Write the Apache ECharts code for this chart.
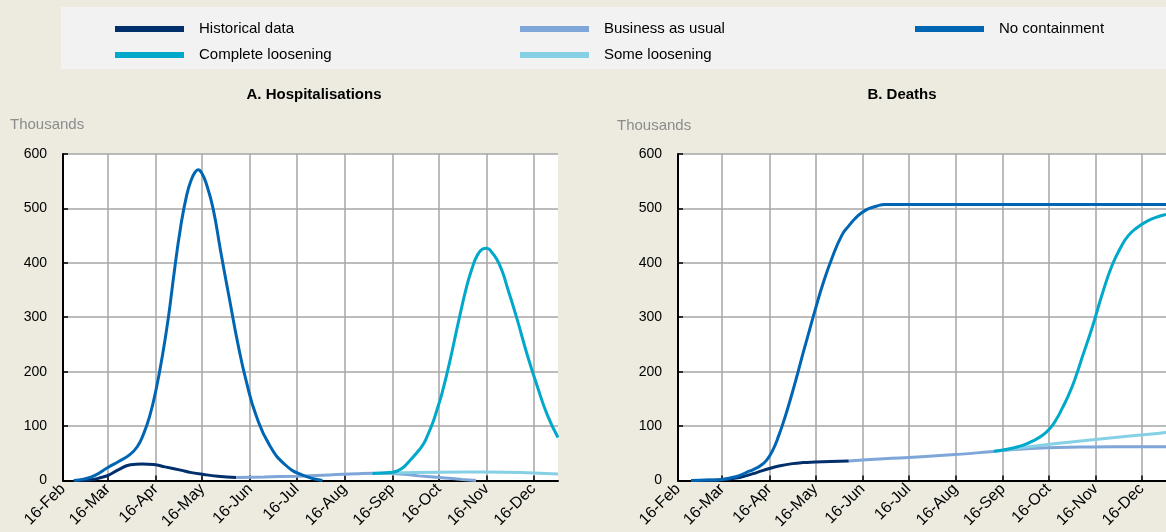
<!DOCTYPE html>
<html><head><meta charset="utf-8">
<script src="https://cdn.jsdelivr.net/npm/echarts@6/dist/echarts.min.js"></script>
<style>html,body{margin:0;padding:0;background:#edeadf;}#c{width:1166px;height:532px;}</style>
</head><body><div id="c"></div>
<script>
// x = days since 16-Feb-2020
const tickDays = [0, 29, 60, 90, 121, 151, 182, 213, 243, 274, 304];
const tickLabels = ['16-Feb','16-Mar','16-Apr','16-May','16-Jun','16-Jul','16-Aug','16-Sep','16-Oct','16-Nov','16-Dec'];
const yTicks = [0, 100, 200, 300, 400, 500, 600];

// Panel A: Hospitalisations (thousands)
const histHosp = [[7,0],[13,0.5],[19.5,2],[24,5],[29.5,10],[36,20],[43.6,29],[51,30.5],[58.6,29.5],[66,25],[76,19],[83,14.5],[91,11],[100,8],[112,5.5]];
const bauHosp = [[112,5.5],[130,6.5],[151,8],[172,10],[190,12.5],[200,13.4],[213,13],[230,8.5],[245,5],[258,2],[267,0]];
const noContHosp = [[7,0],[14,3],[21,10],[29,24],[36,35],[43,47],[48,62],[52,85],[56,118],[60,165],[64,225],[68,297],[72,385],[76,465],[80,525],[83,553],[85.5,567],[87.3,571],[89.5,566],[92.7,545],[97,500],[102,420],[107.7,332],[113,252],[118.5,182],[124.8,120],[133.5,65],[144,28],[154.8,10],[167.7,0]];
const someHosp = [[200,13],[213,14],[243,15],[274,15.5],[304,14],[320,12]];
const completeHosp = [[200,13],[213,15],[219,22],[224,36],[229,52],[233,67],[236,85],[239.4,109],[242,132],[245,160],[250,218],[255.6,291],[261,357],[264.5,390],[267.5,412],[271,425],[274,427],[277,420],[280.5,406],[284,384],[287,357],[293.5,297],[300,232],[306.5,174],[313,121],[320,79]];

// Panel B: Deaths (thousands)
const histDeath = [[8.6,0],[20,0.5],[29,1.5],[37,4],[45,9],[52,15],[60,22],[67,27],[75,31],[82,33],[90,34],[100,35],[112,36]];
const bauDeath = [[112,36],[135,40],[157,43],[183.5,48],[207,53.5],[226,58],[248,60.5],[270,61.5],[300,62],[320,62]];
const noContDeath = [[8.6,0],[20,0.7],[29,2],[38,7],[45,15],[50,21],[54,27],[58,37],[62,55],[66,82],[70,115],[74,152],[78,192],[82,234],[86,274],[90,314],[95,361],[101,409],[107.5,451],[112,468],[116,481],[120,491],[124.7,499],[130,504],[135.5,507],[160,507],[220,507],[320,507]];
const someDeath = [[207,53.5],[248,68],[280,77],[316,87],[320,88]];
const completeDeath = [[207,53.5],[215,57],[220,60],[226.5,65],[233,73],[239.5,84],[244,96],[248,112],[252,133],[256.6,160],[261,192],[265,226],[271.7,282],[278,341],[284.6,395],[291,432],[295,449],[299.7,462],[308,477],[316,486],[320,489]];

const colors = {'Historical data':'#002f6c','Business as usual':'#7fa6d9','No containment':'#0066b3','Complete loosening':'#00a8ca','Some loosening':'#85d0e4'};

const chart = echarts.init(document.getElementById('c'), null, {renderer:'canvas'});
const font = 'Arial, "Liberation Sans", sans-serif';

function xAxis(gi){
  return {
    type:'value', gridIndex:gi, min:0, max:320,
    axisLine:{show:true, onZero:false, lineStyle:{color:'#000', width:2}},
    axisTick:{show:true, inside:true, length:5, customValues:tickDays, lineStyle:{color:'#000', width:1.5}},
    axisLabel:{customValues:tickDays, rotate:45, margin:6, fontSize:16, color:'#000', fontFamily:font,
      formatter:function(v){const i = tickDays.indexOf(Math.round(v)); return i>=0 ? tickLabels[i] : '';}},
    splitLine:{show:true, lineStyle:{color:'#a6a6a6', width:1.5}}
  };
}
function yAxis(gi){
  return {
    type:'value', gridIndex:gi, min:yTicks[0], max:yTicks[yTicks.length-1], interval:100,
    axisLine:{show:true, lineStyle:{color:'#000', width:2}},
    axisTick:{show:true, inside:true, length:5, lineStyle:{color:'#000', width:1.5}},
    axisLabel:{margin:16, fontSize:14, color:'#000', fontFamily:font},
    splitLine:{show:true, lineStyle:{color:'#a6a6a6', width:1.5}}
  };
}
function line(name, data, gi){
  return {name:name, type:'line', xAxisIndex:gi, yAxisIndex:gi, data:data, smooth:0.5,
    showSymbol:false, symbol:'none', lineStyle:{color:colors[name], width:3}, itemStyle:{color:colors[name]}, z:3};
}
const legendBase = {orient:'vertical', icon:'rect', itemWidth:69, itemHeight:6, itemGap:10,
  textStyle:{fontSize:15, color:'#000', fontFamily:font, lineHeight:16, padding:[0,0,0,10]}, selectedMode:false};

chart.setOption({
  backgroundColor:'#edeadf',
  animation:false,
  graphic:[
    {type:'rect', shape:{x:61, y:7, width:1120, height:62}, style:{fill:'#f2f2f2'}, z:-1},
    {type:'text', style:{text:'A. Hospitalisations', x:314, y:95, textAlign:'center', textVerticalAlign:'middle', font:'bold 15px Arial, "Liberation Sans", sans-serif', fill:'#000'}},
    {type:'text', style:{text:'B. Deaths', x:902, y:95, textAlign:'center', textVerticalAlign:'middle', font:'bold 15px Arial, "Liberation Sans", sans-serif', fill:'#000'}},
    {type:'text', style:{text:'Thousands', x:10, y:125, textAlign:'left', textVerticalAlign:'middle', font:'15px Arial, "Liberation Sans", sans-serif', fill:'#8c8c8c'}},
    {type:'text', style:{text:'Thousands', x:617, y:126, textAlign:'left', textVerticalAlign:'middle', font:'15px Arial, "Liberation Sans", sans-serif', fill:'#8c8c8c'}}
  ],
  legend:[
    Object.assign({left:110, top:16, data:['Historical data','Complete loosening']}, legendBase),
    Object.assign({left:515, top:16, data:['Business as usual','Some loosening']}, legendBase),
    Object.assign({left:910, top:16, data:['No containment']}, legendBase)
  ],
  grid:[
    {left:63, top:154, width:495, height:329, show:true, backgroundColor:'#ffffff', borderWidth:0},
    {left:678, top:154, width:495, height:329, show:true, backgroundColor:'#ffffff', borderWidth:0}
  ],
  xAxis:[xAxis(0), xAxis(1)],
  yAxis:[yAxis(0), yAxis(1)],
  series:[
    line('Historical data', histHosp, 0),
    line('Business as usual', bauHosp, 0),
    line('Some loosening', someHosp, 0),
    line('Complete loosening', completeHosp, 0),
    line('No containment', noContHosp, 0),
    line('Historical data', histDeath, 1),
    line('Business as usual', bauDeath, 1),
    line('Some loosening', someDeath, 1),
    line('Complete loosening', completeDeath, 1),
    line('No containment', noContDeath, 1)
  ]
});
</script></body></html>
